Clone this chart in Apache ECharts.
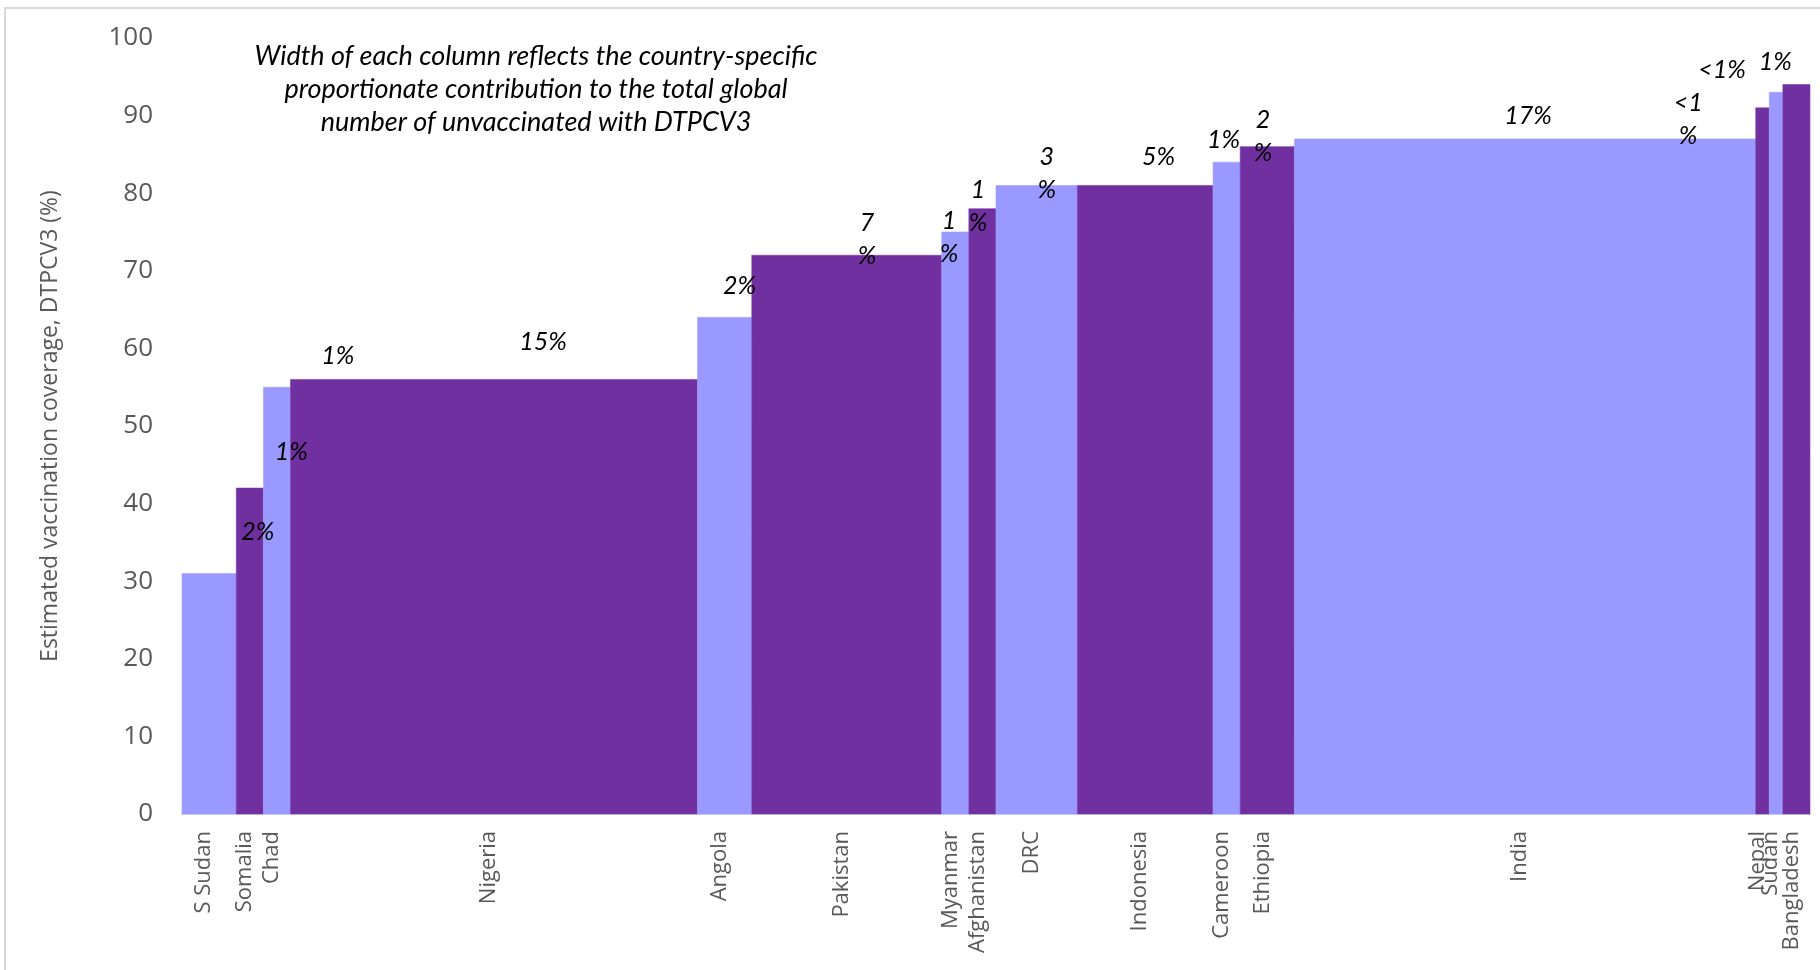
<!DOCTYPE html>
<html>
<head>
<meta charset="utf-8">
<style>
html,body{margin:0;padding:0;background:#fff;}
#chart{width:1820px;height:970px;}
</style>
<script src="https://cdn.jsdelivr.net/npm/echarts@6/dist/echarts.min.js"></script>
</head>
<body>
<div id="chart"></div>
<script>
// ---- data ----
const countries = ['S Sudan','Somalia','Chad','Nigeria','Angola','Pakistan','Myanmar','Afghanistan','DRC','Indonesia','Cameroon','Ethiopia','India','Nepal','Sudan','Bangladesh'];
const coverage = [31,42,55,56,64,72,75,78,81,81,84,86,87,91,93,94];
const sharePct = [2,1,1,15,2,7,1,1,3,5,1,2,17,0.5,0.5,1];
const shareLabels = ['2%','1%','1%','15%','2%','7%','1%','1%','3%','5%','1%','2%','17%','<1%','<1%','1%'];
const yTickValues = [0,10,20,30,40,50,60,70,80,90,100];
const yAxisTitle = 'Estimated vaccination coverage, DTPCV3 (%)';
const noteText = 'Width of each column reflects the country-specific\nproportionate contribution to the total global\nnumber of unvaccinated with DTPCV3';

// ---- annotation placement (offsets from each column's top-centre: [share units, coverage units], wrap) ----
const labelPlacement = [
  [1.79,5.4,false],[1.53,4.7,false],[2.24,4.0,false],[1.81,4.8,false],
  [0.55,4.0,false],[0.75,2.0,true],[-0.23,-0.7,true],[-0.16,0.3,true],
  [0.37,1.5,true],[0.49,3.7,false],[-0.11,2.8,false],[-0.16,1.3,true],
  [0.11,2.9,false],[-2.74,-1.5,true],[-1.99,2.9,false],[-0.78,2.9,false]
];

const LIGHT = '#9999FF', DARK = '#7030A0';

// build cumulative data
const seriesData = [];
let cum = 0;
countries.forEach((c, i) => {
  seriesData.push([cum, cum + sharePct[i], coverage[i], i]);
  cum += sharePct[i];
});
const total = cum;

const chart = echarts.init(document.getElementById('chart'));

function barItem(params, api) {
  const x0 = api.value(0), x1 = api.value(1), v = api.value(2), i = api.value(3);
  const pTop = api.coord([x0, v]);
  const pBot = api.coord([x1, 0]);
  const mid = (x0 + x1) / 2;
  const cBase = api.coord([mid, 0]);
  return {
    type: 'group',
    children: [
      {
        type: 'rect',
        shape: { x: pTop[0], y: pTop[1], width: pBot[0] - pTop[0], height: pBot[1] - pTop[1] },
        style: { fill: i % 2 === 0 ? LIGHT : DARK, stroke: i % 2 === 0 ? '#a3a3ff' : '#7a3aaa', lineWidth: 0.6 }
      },
      {
        type: 'text',
        x: cBase[0] - 5, y: cBase[1] + 17,
        rotation: Math.PI / 2,
        style: {
          text: countries[i], fill: '#595959', fontFamily: 'Open Sans',
          fontSize: 22, align: 'right', verticalAlign: 'middle'
        }
      }
    ]
  };
}

function labelItem(params, api) {
  const x0 = api.value(0), x1 = api.value(1), v = api.value(2), i = api.value(3);
  const mid = (x0 + x1) / 2;
  const pl = labelPlacement[i];
  const lp = api.coord([mid + pl[0], v + pl[1]]);
  let txt = shareLabels[i];
  if (pl[2]) txt = txt.replace('%', '\n%');
  return {
    type: 'text',
    x: lp[0], y: lp[1],
    style: {
      text: txt, fill: '#000', fontFamily: 'Lato', fontStyle: 'italic',
      fontSize: 25, lineHeight: 33, align: 'center', verticalAlign: 'middle'
    }
  };
}

chart.setOption({
  animation: false,
  backgroundColor: '#fff',
  grid: { left: 182, right: 10, top: 38, bottom: 156 },
  xAxis: {
    type: 'value', min: 0, max: total,
    axisLine: { show: true, onZero: false, lineStyle: { color: '#d9d9d9', width: 2 } },
    axisTick: { show: false }, axisLabel: { show: false }, splitLine: { show: false }
  },
  yAxis: {
    type: 'value', min: yTickValues[0], max: yTickValues[yTickValues.length - 1], interval: 10,
    name: yAxisTitle, nameLocation: 'middle', nameGap: 120,
    nameTextStyle: { color: '#595959', fontFamily: 'Open Sans', fontSize: 23 },
    axisLine: { show: false }, axisTick: { show: false }, splitLine: { show: false },
    axisLabel: { color: '#595959', fontFamily: 'Open Sans', fontSize: 26, margin: 29 }
  },
  graphic: [
    {
      type: 'rect', z: -10,
      shape: { x: 5, y: 8, width: 1830, height: 980 },
      style: { fill: 'none', stroke: '#d9d9d9', lineWidth: 2 }
    },
    {
      type: 'text', x: 536, y: 40,
      style: {
        text: noteText, fill: '#000', fontFamily: 'Lato', fontStyle: 'italic',
        fontSize: 27, lineHeight: 33, align: 'center', verticalAlign: 'top'
      }
    }
  ],
  series: [
    {
      type: 'custom',
      renderItem: barItem,
      encode: { x: [0, 1], y: 2 },
      data: seriesData,
      clip: false,
      z: 2
    },
    {
      type: 'custom',
      renderItem: labelItem,
      encode: { x: [0, 1], y: 2 },
      data: seriesData,
      clip: false,
      silent: true,
      z: 5
    }
  ]
});
</script>
</body>
</html>
